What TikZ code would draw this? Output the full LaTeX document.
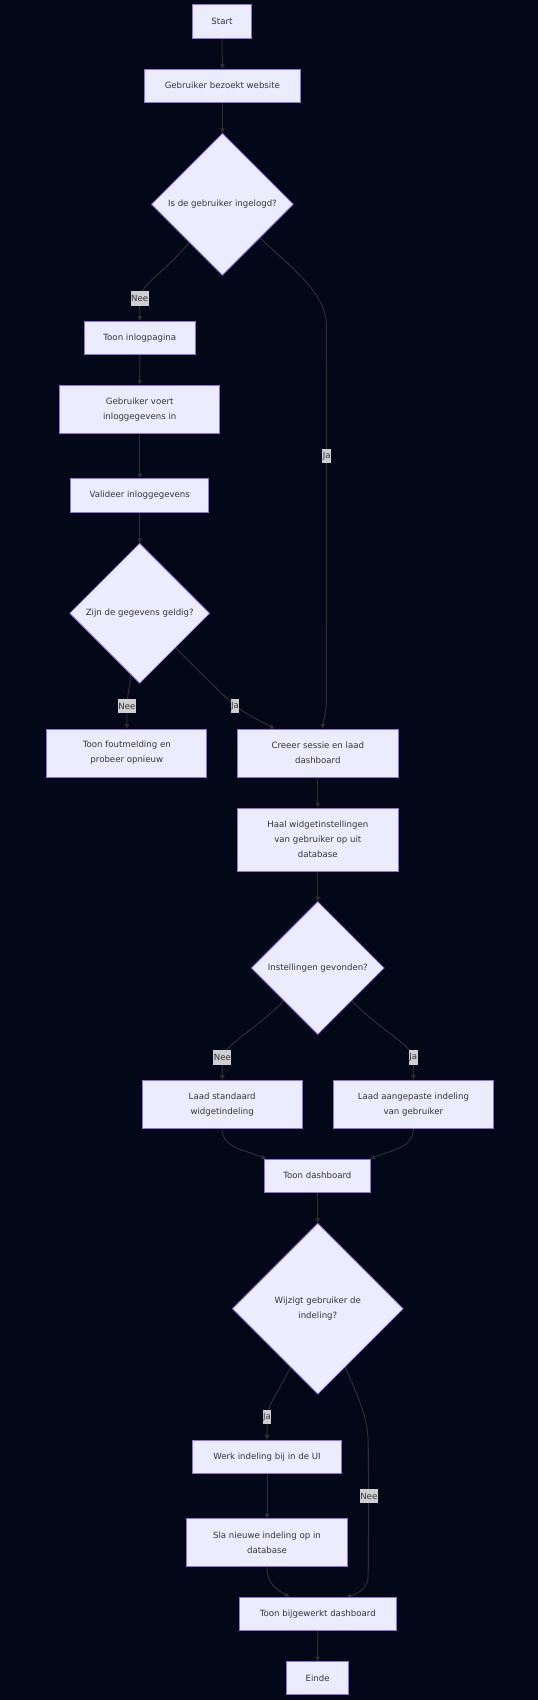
\documentclass[tikz,border=0pt]{standalone}
\usepackage{fontspec}
\setmainfont{DejaVu Sans}
\usetikzlibrary{shapes.geometric,arrows.meta,calc}
\pgfdeclarelayer{bgl}
\pgfdeclarelayer{edgel}
\pgfsetlayers{bgl,edgel,main}
\definecolor{bgcol}{HTML}{030819}
\definecolor{nodefill}{HTML}{ECECFF}
\definecolor{nodeline}{HTML}{9370DB}
\definecolor{edgecol}{HTML}{2E2E2E}
\definecolor{txtcol}{HTML}{333333}
\definecolor{lblfill}{HTML}{CFCFCF}
\newcommand{\nfont}{\fontsize{8.6bp}{15bp}\selectfont}
\begin{document}
\begin{tikzpicture}[x=1bp,y=-1bp,
 box/.style={draw=nodeline,fill=nodefill,line width=1bp,inner sep=0pt,minimum height=33.3bp,align=center,font=\nfont,text=txtcol},
 dia/.style={diamond,draw=nodeline,fill=nodefill,line width=0.8bp,inner sep=0pt,aspect=1,align=center,font=\nfont,text=txtcol},
 edge/.style={draw=edgecol,line width=1bp,-{Triangle[length=4.5bp,width=4.5bp]}},
 lbl/.style={fill=lblfill,text=txtcol,font=\nfont,inner xsep=0.5bp,inner ysep=0pt,minimum height=14.5bp}]
\begin{pgfonlayer}{bgl}
\fill[bgcol] (0,0) rectangle (538,1700);
\end{pgfonlayer}
\useasboundingbox (0,0) rectangle (538,1700);

\node[box,minimum width=58.6bp] (start) at (222,21.5) {Start};
\node[box,minimum width=156.5bp] (visit) at (222.4,85.7) {Gebruiker bezoekt website};
\node[dia,minimum width=142bp,minimum height=142bp] (d1) at (222.4,204.3) {Is de gebruiker ingelogd?};
\node[box,minimum width=110.9bp] (login) at (139.8,337.7) {Toon inlogpagina};
\node[box,minimum width=160bp,minimum height=48.3bp] (enter) at (139.7,409.2) {Gebruiker voert\\inloggegevens in};
\node[box,minimum width=138bp] (valid) at (139.7,495.5) {Valideer inloggegevens};
\node[dia,minimum width=140bp,minimum height=140bp] (d2) at (139.7,613.3) {Zijn de gegevens geldig?};
\node[box,minimum width=160.2bp,minimum height=48bp] (fout) at (126.8,753) {Toon foutmelding en\\probeer opnieuw};
\node[box,minimum width=160.6bp,minimum height=48bp] (sess) at (317.8,753) {Creeer sessie en laad\\dashboard};
\node[box,minimum width=160.6bp,minimum height=63bp] (haal) at (317.8,839.5) {Haal widgetinstellingen\\van gebruiker op uit\\database};
\node[dia,minimum width=133bp,minimum height=133bp] (d3) at (317.8,968) {Instellingen gevonden?};
\node[box,minimum width=160.2bp,minimum height=48.3bp] (std) at (222.2,1104.2) {Laad standaard\\widgetindeling};
\node[box,minimum width=160.2bp,minimum height=48.3bp] (aang) at (413.4,1104.2) {Laad aangepaste indeling\\van gebruiker};
\node[box,minimum width=105.7bp] (tdash) at (317.4,1175.7) {Toon dashboard};
\node[dia,minimum width=171bp,minimum height=171bp] (d4) at (317.8,1308.7) {Wijzigt gebruiker de\\indeling?};
\node[box,minimum width=149.6bp] (werk) at (267,1456.7) {Werk indeling bij in de UI};
\node[box,minimum width=160.6bp,minimum height=48bp] (sla) at (267,1542.7) {Sla nieuwe indeling op in\\database};
\node[box,minimum width=156.5bp] (tbij) at (317.8,1614) {Toon bijgewerkt dashboard};
\node[box,minimum width=61.4bp] (einde) at (317.6,1678.3) {Einde};

\node[lbl] (n1) at (139.7,298.3) {Nee};
\node[lbl] (j1) at (326.7,456) {Ja};
\node[lbl] (n2) at (127,706) {Nee};
\node[lbl] (j2) at (235,706) {Ja};
\node[lbl] (n3) at (222.4,1057.7) {Nee};
\node[lbl] (j3) at (413.2,1057.7) {Ja};
\node[lbl] (j4) at (267,1417) {Ja};
\node[lbl] (n4) at (368.8,1496) {Nee};

\begin{pgfonlayer}{edgel}
\draw[edge] (start.south) -- (visit.north);
\draw[edge] (visit.south) -- (d1.north);
\draw[edge] (d1.229) .. controls (165,272) and (141,284) .. (n1.center) -- (login.north);
\draw[edge] (d1.318) .. controls (295,270) and (326.4,295) .. (326.4,325) -- (j1.center) -- (326.4,700) .. controls (326.4,715) and (323,720) .. ($(sess.north)+(4.8,0)$);
\draw[edge] (login) -- (enter);
\draw[edge] (enter) -- (valid);
\draw[edge] (valid) -- (d2);
\draw[edge] (d2.262) .. controls (129,690) and (127,698) .. (n2.center) -- (fout.north);
\draw[edge] (d2.316) .. controls (205,677) and (225,697) .. (j2.center) .. controls (250,716) and (262,722) .. ($(sess.north)+(-43.3,0)$);
\draw[edge] (sess) -- (haal);
\draw[edge] (haal) -- (d3);
\draw[edge] (d3.224) .. controls (255,1030) and (224,1045) .. (n3.center) -- (std.north);
\draw[edge] (d3.316) .. controls (380,1030) and (412,1045) .. (j3.center) -- (aang.north);
\draw[edge] (std.south) .. controls (222,1148) and (245,1150) .. ($(tdash.north)+(-51.4,0)$);
\draw[edge] (aang.south) .. controls (413,1148) and (392,1150) .. ($(tdash.north)+(53,0)$);
\draw[edge] (tdash.south) -- (d4.north);
\draw[edge] (d4.245) .. controls (278,1392) and (268,1405) .. (j4.center) -- (werk.north);
\draw[edge] (d4.295) .. controls (360,1400) and (368.2,1420) .. (368.2,1445) -- (n4.center) -- (368.2,1575) .. controls (368.2,1590) and (356,1594) .. ($(tbij.north)+(28.8,0)$);
\draw[edge] (werk) -- (sla);
\draw[edge] (sla.south) .. controls (267,1585) and (278,1590) .. ($(tbij.north)+(-28.5,0)$);
\draw[edge] (tbij.south) -- (einde.north);
\end{pgfonlayer}
\end{tikzpicture}
\end{document}
